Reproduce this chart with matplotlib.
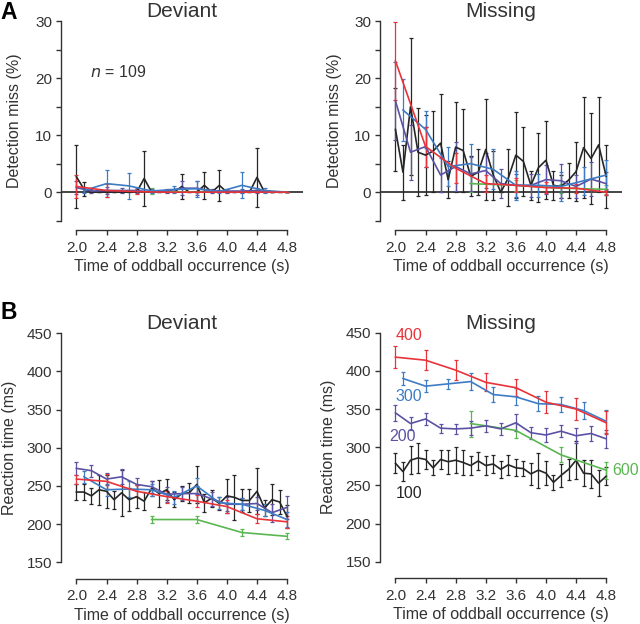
import numpy as np
import matplotlib
matplotlib.use("Agg")
import matplotlib.pyplot as plt

plt.rcParams['font.family'] = ['Liberation Sans', 'DejaVu Sans']

# ---- time grids (s) for each oddball interval condition ----
T100 = [2.0, 2.1, 2.2, 2.3, 2.4, 2.5, 2.6, 2.7, 2.8, 2.9, 3.0, 3.1, 3.2, 3.3, 3.4,
        3.5, 3.6, 3.7, 3.8, 3.9, 4.0, 4.1, 4.2, 4.3, 4.4, 4.5, 4.6, 4.7, 4.8]
T200 = [2.0, 2.2, 2.4, 2.6, 2.8, 3.0, 3.2, 3.4, 3.6, 3.8, 4.0, 4.2, 4.4, 4.6, 4.8]
T300 = [2.1, 2.4, 2.7, 3.0, 3.3, 3.6, 3.9, 4.2, 4.5, 4.8]
T400 = [2.0, 2.4, 2.8, 3.2, 3.6, 4.0, 4.4, 4.8]
T600 = [3.0, 3.6, 4.2, 4.8]

# ---- A: detection miss (%), deviant ----
A_DEV_100 = [2.7, 0.55, 0, 0, 0, 0, 0, 0, 0, 2.4, 0, 0, 0, 0, 1.0,
             0, 0, 1.2, 0, 1.2, 0, 0, 0, 0, 2.6, 0, 0, 0, 0]
A_DEV_100_E = [5.5, 1.25, 0, 0, 0, 0, 0, 0, 0, 4.8, 0, 0, 0, 0, 2.2,
               0, 0, 2.4, 0, 2.7, 0, 0, 0, 0, 5.2, 0, 0, 0, 0]
A_DEV_200 = [0.8, 0.2, 0.3, 0.3, 0.3, 0.0, 0.2, 0.7, 0.7, 0.2, 0.2, 0.2, 0.3, 0, 0]
A_DEV_200_E = [1.2, 0.4, 0.6, 0.5, 0.5, 0, 0.4, 1.2, 1.2, 0.4, 0.4, 0.4, 0.5, 0, 0]
A_DEV_300 = [0.3, 1.5, 1.1, 0.2, 0.5, 0.6, 0.1, 1.2, 0.3, 0]
A_DEV_300_E = [0.5, 2.4, 2.3, 0.4, 0.6, 1.4, 0.2, 2.3, 0.4, 0]
A_DEV_400 = [1.0, 0.3, 0.1, 0, 0, 0, 0, 0]
A_DEV_400_E = [2.0, 1.1, 0.4, 0, 0, 0, 0, 0]
A_DEV_600 = [0.2, 0, 0, 0]
A_DEV_600_E = [0.5, 0, 0, 0]

# ---- A: detection miss (%), missing ----
A_MIS_100 = [11.0, 3.5, 15.0, 7.0, 6.5, 7.2, 8.6, 2.2, 7.9, 7.3, 2.8, 3.5, 7.5, 3.0, 0.0,
             2.5, 6.5, 5.4, 1.2, 4.3, 5.6, 1.2, 1.0, 2.1, 3.6, 7.8, 5.9, 8.3, 2.8]
A_MIS_100_E = [7.3, 4.8, 12.0, 7.7, 7.0, 7.1, 8.6, 3.2, 7.9, 7.3, 3.5, 4.0, 8.8, 4.3, 0.0,
               5.0, 7.5, 6.0, 2.5, 6.0, 6.8, 2.5, 2.0, 3.1, 5.2, 8.8, 8.0, 8.3, 5.5]
A_MIS_200 = [16.0, 7.0, 8.0, 3.0, 4.5, 3.2, 3.8, 1.5, 1.2, 1.2, 2.2, 2.0, 1.0, 2.3, 1.5]
A_MIS_200_E = [6.8, 4.8, 3.5, 3.0, 4.3, 3.0, 3.0, 2.5, 2.0, 2.0, 2.5, 3.0, 2.0, 3.0, 2.0]
A_MIS_300 = [14.4, 11.0, 4.5, 5.0, 4.0, 1.2, 1.2, 1.0, 2.0, 3.0]
A_MIS_300_E = [5.5, 3.2, 3.4, 3.4, 3.5, 2.5, 2.0, 2.5, 2.5, 2.7]
A_MIS_400 = [23.0, 8.0, 4.2, 1.5, 1.2, 0.8, 0.7, 0.0]
A_MIS_400_E = [6.8, 3.5, 2.6, 1.5, 1.2, 1.0, 0.8, 0.5]
A_MIS_600 = [1.5, 1.2, 0.7, 0.5]
A_MIS_600_E = [1.5, 1.0, 0.8, 0.8]

# ---- B: reaction time (ms), deviant ----
B_DEV_100 = [242, 242, 237, 245, 243, 232, 241, 232, 236, 230, 247, 240, 245, 232, 240,
             241, 252, 228, 234, 227, 237, 235, 231, 231, 243, 221, 232, 229, 210]
B_DEV_100_E = [10, 10, 10, 20, 22, 12, 30, 15, 15, 12, 10, 18, 14, 10, 10,
               13, 24, 12, 11, 8, 22, 30, 15, 15, 30, 10, 20, 16, 15]
B_DEV_200 = [273, 270, 259, 262, 252, 249, 239, 240, 240, 233, 226, 226, 227, 215, 222]
B_DEV_200_E = [8, 8, 8, 10, 9, 8, 10, 8, 10, 9, 9, 8, 8, 12, 15]
B_DEV_300 = [262, 245, 246, 245, 235, 250, 228, 226, 218, 206]
B_DEV_300_E = [8, 8, 10, 8, 9, 10, 8, 8, 8, 10]
B_DEV_400 = [259, 256, 243, 236, 230, 223, 207, 203]
B_DEV_400_E = [6, 10, 8, 8, 8, 8, 6, 8]
B_DEV_600 = [206, 206, 189, 184]
B_DEV_600_E = [4, 4, 4, 4]

# ---- B: reaction time (ms), missing ----
B_MIS_100 = [279, 268, 283, 286, 284, 273, 284, 281, 283, 280, 276, 282, 276, 278, 271,
             277, 273, 272, 265, 270, 266, 254, 263, 271, 283, 266, 265, 253, 262]
B_MIS_100_E = [13, 12, 18, 20, 12, 10, 12, 16, 17, 16, 12, 12, 12, 12, 11,
               13, 11, 10, 14, 23, 16, 10, 15, 14, 25, 17, 18, 17, 12]
B_MIS_200 = [345, 331, 337, 325, 324, 325, 328, 324, 332, 319, 316, 321, 315, 318, 311]
B_MIS_200_E = [10, 8, 8, 6, 7, 9, 8, 8, 11, 8, 9, 8, 10, 10, 12]
B_MIS_300 = [390, 380, 383, 386, 369, 366, 357, 356, 348, 334]
B_MIS_300_E = [8, 8, 7, 11, 10, 11, 10, 10, 11, 15]
B_MIS_400 = [418, 414, 401, 385, 378, 359, 350, 332]
B_MIS_400_E = [14, 13, 13, 12, 11, 14, 14, 15]
B_MIS_600 = [331, 322, 290, 270]
B_MIS_600_E = [17, 10, 10, 11]

COLORS = {100: "#262626", 200: "#5b52a3", 300: "#3d7cc4", 400: "#e8333a", 600: "#5ab651"}
TIMES = {100: T100, 200: T200, 300: T300, 400: T400, 600: T600}
TXT = "#333333"

PANELS = [
    # (rect, ylim, yticks, labelled ticks, title, ylabel, series)
    ([0.0953, 0.6463, 0.378, 0.320], (-5, 30), [-5, 0, 5, 10, 15, 20, 25, 30], [0, 10, 20, 30],
     "Deviant", "Detection miss (%)",
     {100: (A_DEV_100, A_DEV_100_E), 200: (A_DEV_200, A_DEV_200_E), 300: (A_DEV_300, A_DEV_300_E),
      400: (A_DEV_400, A_DEV_400_E), 600: (A_DEV_600, A_DEV_600_E)}),
    ([0.5938, 0.6463, 0.378, 0.320], (-5, 30), [-5, 0, 5, 10, 15, 20, 25, 30], [0, 10, 20, 30],
     "Missing", "Detection miss (%)",
     {100: (A_MIS_100, A_MIS_100_E), 200: (A_MIS_200, A_MIS_200_E), 300: (A_MIS_300, A_MIS_300_E),
      400: (A_MIS_400, A_MIS_400_E), 600: (A_MIS_600, A_MIS_600_E)}),
    ([0.0953, 0.0989, 0.378, 0.367], (150, 450), [150, 200, 250, 300, 350, 400, 450],
     [150, 200, 250, 300, 350, 400, 450], "Deviant", "Reaction time (ms)",
     {100: (B_DEV_100, B_DEV_100_E), 200: (B_DEV_200, B_DEV_200_E), 300: (B_DEV_300, B_DEV_300_E),
      400: (B_DEV_400, B_DEV_400_E), 600: (B_DEV_600, B_DEV_600_E)}),
    ([0.5938, 0.0998, 0.378, 0.367], (150, 450), [150, 200, 250, 300, 350, 400, 450],
     [150, 200, 250, 300, 350, 400, 450], "Missing", "Reaction time (ms)",
     {100: (B_MIS_100, B_MIS_100_E), 200: (B_MIS_200, B_MIS_200_E), 300: (B_MIS_300, B_MIS_300_E),
      400: (B_MIS_400, B_MIS_400_E), 600: (B_MIS_600, B_MIS_600_E)}),
]

XTICKS = [2.0, 2.4, 2.8, 3.2, 3.6, 4.0, 4.4, 4.8]

fig = plt.figure(figsize=(6.4, 6.24), dpi=100)
axes = []
for i, (rect, ylim, yticks, ylab_ticks, title, ylabel, series) in enumerate(PANELS):
    ax = fig.add_axes(rect)
    axes.append(ax)
    is_a = i < 2
    if is_a:
        ax.axhline(0, color="#444444", lw=1.4, zorder=1)
    for key in (100, 600, 200, 300, 400):
        m, e = series[key]
        ax.errorbar(TIMES[key], m, yerr=e, color=COLORS[key], lw=1.2, elinewidth=0.9,
                    capsize=1.6, capthick=0.9, zorder=3, clip_on=False)
    ax.set_xlim(1.795, 5.01)
    ax.set_ylim(*ylim)
    for s in ("top", "right"):
        ax.spines[s].set_visible(False)
    for s in ("left", "bottom"):
        ax.spines[s].set_color(TXT)
        ax.spines[s].set_linewidth(1.0)
    ax.spines["bottom"].set_position(("outward", 7 if is_a else 12))
    ax.spines["bottom"].set_bounds(2.0, 4.8)
    ax.set_xticks(XTICKS)
    ax.set_xticklabels([f"{t:.1f}" for t in XTICKS])
    ax.set_yticks(yticks)
    ax.set_yticklabels([str(t) if t in ylab_ticks else "" for t in yticks])
    ax.tick_params(axis="both", direction="out", length=3.5, width=1.0, color=TXT,
                   labelcolor=TXT, labelsize=11, pad=3)
    ax.tick_params(axis="x", pad=4)
    ax.set_xlabel("Time of oddball occurrence (s)", fontsize=11.5, color=TXT, labelpad=3)
    ax.set_ylabel(ylabel, fontsize=11.5, color=TXT, labelpad=9 if is_a else 7)
    ax.set_title(title, fontsize=15, color=TXT, pad=2)
    ax.patch.set_alpha(0)

axes[0].text(2.18, 21, "$\\it{n}$ = 109", fontsize=11.5, color=TXT, va="center")

# condition labels on B Missing
axB = axes[3]
axB.text(2.18, 447, "400", color=COLORS[400], fontsize=11.5, ha="center", va="center")
axB.text(2.18, 367, "300", color=COLORS[300], fontsize=11.5, ha="center", va="center")
axB.text(2.10, 314, "200", color=COLORS[200], fontsize=11.5, ha="center", va="center")
axB.text(2.18, 240, "100", color=COLORS[100], fontsize=11.5, ha="center", va="center")
axB.text(4.88, 270, "600", color=COLORS[600], fontsize=11.5, ha="left", va="center")

fig.text(0.0, 0.998, "A", fontsize=16.5, fontweight="bold", va="top", ha="left")
fig.text(0.0, 0.518, "B", fontsize=16.5, fontweight="bold", va="top", ha="left")

fig.savefig("out.png", dpi=100)
